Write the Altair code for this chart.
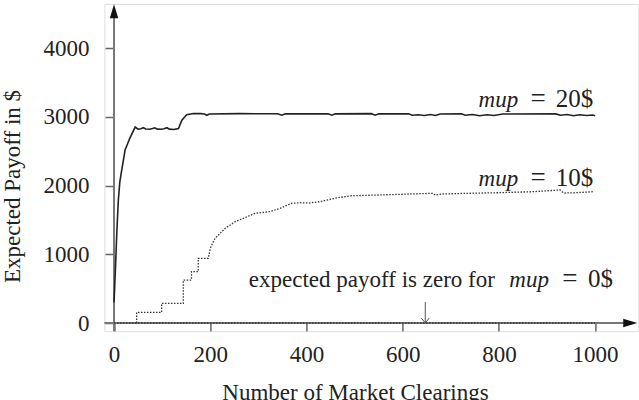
import altair as alt
import pandas as pd

# ---- data ----
x_mup20 = [0, 3, 6, 9, 12, 16, 23, 33, 44, 50, 56, 61, 66, 74, 80, 85, 90, 98, 104, 110, 115, 124,
           134, 141, 151, 165, 180, 188, 193, 198, 260, 340, 349, 356, 445, 453, 460, 535, 543, 550,
           612, 620, 632, 645, 658, 668, 678, 722, 730, 745, 760, 775, 790, 808, 918, 928, 942, 955,
           968, 982, 995, 1000]
y_mup20 = [300, 800, 1350, 1790, 2050, 2225, 2516, 2690, 2850, 2820, 2825, 2840, 2822, 2818, 2828,
           2840, 2820, 2818, 2825, 2840, 2820, 2815, 2830, 2950, 3030, 3048, 3045, 3040, 3022, 3040,
           3045, 3044, 3022, 3042, 3044, 3022, 3042, 3045, 3022, 3042, 3042, 3022, 3030, 3018, 3032,
           3018, 3040, 3042, 3022, 3032, 3015, 3030, 3018, 3040, 3042, 3022, 3032, 3015, 3030, 3018,
           3025, 3015]

x_mup10 = [47, 47, 99, 99, 144, 144, 161, 161, 175, 175, 196, 200, 210, 231, 252, 269, 293, 324, 345,
           369, 387, 405, 428, 460, 491, 530, 580, 620, 663, 668, 680, 733, 800, 871, 927, 935, 960, 996]
y_mup10 = [0, 155, 155, 286, 286, 625, 625, 746, 746, 940, 940, 1086, 1232, 1377, 1474, 1523, 1595,
           1619, 1668, 1741, 1750, 1745, 1765, 1815, 1850, 1858, 1868, 1878, 1886, 1860, 1876, 1886,
           1895, 1910, 1935, 1890, 1895, 1910]

x_mup0 = [0, 1000]
y_mup0 = [0, 0]

x_ticks = [0, 200, 400, 600, 800, 1000]
y_ticks = [0, 1000, 2000, 3000, 4000]

x_domain = [-20, 1090]
y_domain = [-120, 4640]

# axis lines (drawn as arrows) in data units
xaxis_line = {"x": [-20], "x2": [1073], "y": [0]}
yaxis_line = {"x": [0], "y": [-120], "y2": [4534]}
xarrow = {"x": [1073], "y": [0]}
yarrow = {"x": [0], "y": [4534]}
note_arrow = {"x": [647], "y": [305], "y2": [0]}

FONT = "Liberation Serif"
FS = 23
TXT = "#222222"

xs = alt.Scale(domain=x_domain, nice=False, zero=False)
ys = alt.Scale(domain=y_domain, nice=False, zero=False)

df20 = pd.DataFrame({"x": x_mup20, "y": y_mup20})
df10 = pd.DataFrame({"x": x_mup10, "y": y_mup10})
df0 = pd.DataFrame({"x": x_mup0, "y": y_mup0})

xaxis = alt.Axis(values=x_ticks, format="d", tickSize=8, tickColor="#666666", tickWidth=1.5,
                 domain=False, grid=False, labelFont=FONT, labelFontSize=FS, labelColor=TXT,
                 labelPadding=12, labelFlush=False, offset=-8.25, title="Number of Market Clearings",
                 titleFont=FONT, titleFontSize=FS, titleFontWeight="normal", titleColor=TXT,
                 titleX=250.6, titleY=58, titleBaseline="top", titleAlign="center")
yaxis = alt.Axis(values=y_ticks, format="d", tickSize=9, tickColor="#666666", tickWidth=1.5,
                 domain=False, grid=False, labelFont=FONT, labelFontSize=FS, labelColor=TXT,
                 labelPadding=16, labelFlush=False, offset=-9.6, title="Expected Payoff in $",
                 titleFont=FONT, titleFontSize=FS, titleFontWeight="normal", titleColor=TXT,
                 titleAngle=270, titleX=-102, titleY=182, titleBaseline="middle", titleAlign="center")

base_axes = alt.Chart(df0).mark_point(opacity=0).encode(
    x=alt.X("x:Q", scale=xs, axis=xaxis),
    y=alt.Y("y:Q", scale=ys, axis=yaxis),
)

xline = alt.Chart(pd.DataFrame(xaxis_line)).mark_rule(color="#777777", strokeWidth=2).encode(
    x=alt.X("x:Q", scale=xs), x2="x2:Q", y=alt.Y("y:Q", scale=ys))
yline = alt.Chart(pd.DataFrame(yaxis_line)).mark_rule(color="#777777", strokeWidth=2).encode(
    x=alt.X("x:Q", scale=xs), y=alt.Y("y:Q", scale=ys), y2="y2:Q")

line20 = alt.Chart(df20).mark_line(color="#222222", strokeWidth=1.6).encode(
    x=alt.X("x:Q", scale=xs), y=alt.Y("y:Q", scale=ys), order="idx:Q"
).transform_window(idx="row_number()")
line10 = alt.Chart(df10).mark_line(color="#333333", strokeWidth=1.3, strokeDash=[1.5, 1.5]).encode(
    x=alt.X("x:Q", scale=xs), y=alt.Y("y:Q", scale=ys), order="idx:Q"
).transform_window(idx="row_number()")
line0 = alt.Chart(df0).mark_line(color="#333333", strokeWidth=1.3, strokeDash=[1.5, 1.5]).encode(
    x=alt.X("x:Q", scale=xs), y=alt.Y("y:Q", scale=ys))

xhead = alt.Chart(pd.DataFrame(xarrow)).mark_point(
    shape="M-1,-0.6L1,0L-1,0.6Z", filled=True, color="#111111", size=196, opacity=1).encode(
    x=alt.X("x:Q", scale=xs), y=alt.Y("y:Q", scale=ys))
yhead = alt.Chart(pd.DataFrame(yarrow)).mark_point(
    shape="M-0.6,1L0,-1L0.6,1Z", filled=True, color="#111111", size=196, opacity=1).encode(
    x=alt.X("x:Q", scale=xs), y=alt.Y("y:Q", scale=ys))

narrow = alt.Chart(pd.DataFrame(note_arrow)).mark_rule(color="#555555", strokeWidth=1).encode(
    x=alt.X("x:Q", scale=xs), y=alt.Y("y:Q", scale=ys), y2="y2:Q")
nhead = alt.Chart(pd.DataFrame({"x": note_arrow["x"], "y": [0]})).mark_point(
    shape="M-1,-1.25L0,0L1,-1.25", filled=False, color="#555555", size=64, strokeWidth=1,
    opacity=1).encode(x=alt.X("x:Q", scale=xs), y=alt.Y("y:Q", scale=ys))


def txt(text, x, y, dx=0, align="right", italic=False, size=FS):
    kw = dict(font=FONT, fontSize=size, color=TXT, align=align, baseline="alphabetic", dx=dx)
    if italic:
        kw["fontStyle"] = "italic"
    return alt.Chart(pd.DataFrame({"x": [x], "y": [y], "t": [text]})).mark_text(**kw).encode(
        x=alt.X("x:Q", scale=xs), y=alt.Y("y:Q", scale=ys), text="t:N")


label_x = [996, 996, 1037]
label_y = [3135, 2000, 520]

texts = [
    txt("mup", label_x[0], label_y[0], dx=-75, italic=True),
    txt("=", label_x[0], label_y[0], dx=-55, align="center", size=27),
    txt("20$", label_x[0], label_y[0], size=25),
    txt("mup", label_x[1], label_y[1], dx=-75, italic=True),
    txt("=", label_x[1], label_y[1], dx=-55, align="center", size=27),
    txt("10$", label_x[1], label_y[1], size=25),
    txt("expected payoff is zero for", label_x[2], label_y[2], dx=-118),
    txt("mup", label_x[2], label_y[2], dx=-64, italic=True),
    txt("=", label_x[2], label_y[2], dx=-43, align="center", size=27),
    txt("0$", label_x[2], label_y[2], size=25),
]

chart = alt.layer(base_axes, xline, yline, line10, line20, line0, narrow, nhead, xhead, yhead,
                  *texts).properties(
    width=534, height=327.25,
    autosize=alt.AutoSizeParams(type="none"),
    padding={"left": 104.4, "top": 4, "right": 0.6, "bottom": 68.75},
).configure_view(stroke=None).configure(background="white")

chart.save("out.html", embed_options={"renderer": "svg", "actions": False})
